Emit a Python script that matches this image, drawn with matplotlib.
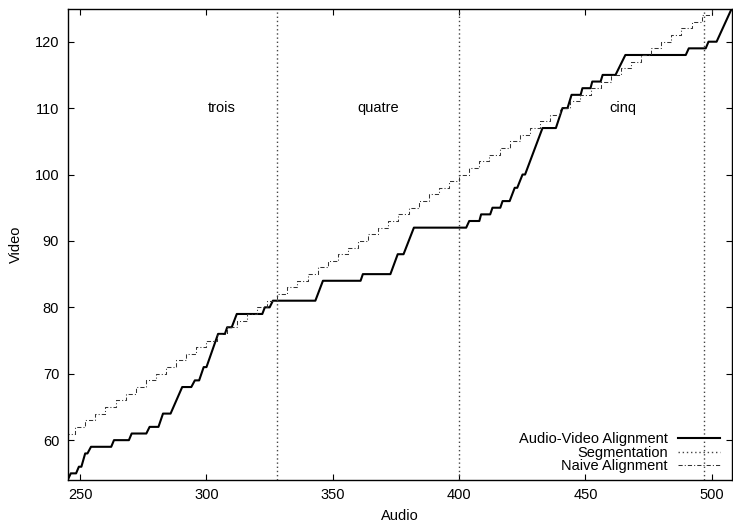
import matplotlib
matplotlib.use('Agg')
import matplotlib.pyplot as plt

plt.rcParams['font.family'] = ['Liberation Sans', 'DejaVu Sans']
plt.rcParams['font.size'] = 10.5

# audio-video alignment path (audio frame, video frame)
av_audio = [245.1, 246.3, 248.4, 249.5, 250.5, 252.0, 252.9, 254.3, 262.3, 263.4,
            269.3, 270.4, 276.2, 277.5, 281.0, 282.8, 285.8, 290.4, 294.0, 295.4,
            297.1, 298.9, 300.0, 304.6, 307.3, 308.2, 310.0, 312.0, 322.1, 323.1,
            325.0, 326.3, 343.1, 346.1, 361.0, 361.9, 372.8, 375.7, 378.0, 382.1,
            402.8, 404.0, 408.0, 408.7, 412.3, 413.2, 416.3, 417.2, 420.0, 422.0,
            423.0, 425.1, 426.1, 433.0, 438.3, 440.9, 442.9, 444.5, 448.1, 448.8,
            452.0, 452.7, 456.0, 456.8, 461.9, 465.8, 489.7, 490.9, 497.6, 498.7,
            501.9, 507.9]
av_video = [54, 55, 55, 56, 56, 58, 58, 59, 59, 60,
            60, 61, 61, 62, 62, 64, 64, 68, 68, 69,
            69, 71, 71, 76, 76, 77, 77, 79, 79, 80,
            80, 81, 81, 84, 84, 85, 85, 88, 88, 92,
            92, 93, 93, 94, 94, 95, 95, 96, 96, 98,
            98, 100, 100, 107, 107, 110, 110, 112, 112, 113,
            113, 114, 114, 115, 115, 118, 118, 119, 119, 120,
            120, 125]

# segment boundaries
seg_audio = [328, 400, 497]
seg_names = ['trois', 'quatre', 'cinq']
seg_label_x = [306, 368, 465]

# naive alignment staircase
naive_audio = [244, 248, 252, 256, 260, 264, 268, 272, 276, 280, 284, 288,
               292, 296, 300, 304, 308, 312, 316, 320, 324, 328, 332, 336,
               340, 344, 348, 352, 356, 360, 364, 368, 372, 376, 380, 384,
               388, 392, 396, 400, 404, 408, 412, 416, 420, 424, 428, 432,
               436, 440, 444, 448, 452, 456, 460, 464, 468, 472, 476, 480,
               484, 488, 492, 496, 500, 504]
naive_video = [61, 62, 63, 64, 65, 66, 67, 68, 69, 70, 71, 72,
               73, 74, 75, 76, 77, 78, 79, 80, 81, 82, 83, 84,
               85, 86, 87, 88, 89, 90, 91, 92, 93, 94, 95, 96,
               97, 98, 99, 100, 101, 102, 103, 104, 105, 106, 107, 108,
               109, 110, 111, 112, 113, 114, 115, 116, 117, 118, 119, 120,
               121, 122, 123, 124, 125, 126]

fig = plt.figure(figsize=(7.33, 5.23), dpi=100)
ax = fig.add_axes([67.5/733, 43/523, (732-67.5)/733, 471.5/523])

ax.plot(av_audio, av_video, color='black', lw=1.5, label='Audio-Video Alignment')
for i, s in enumerate(seg_audio):
    ax.axvline(s, color='#444444', lw=1.0, linestyle=(0, (1, 2)),
               label='Segmentation' if i == 0 else None)
ax.plot(naive_audio, naive_video, color='#333333', lw=0.75, drawstyle='steps-post',
        linestyle=(0, (4, 2, 1, 2)), label='Naive Alignment')

for name, x in zip(seg_names, seg_label_x):
    ax.text(x, 110, name, ha='center', va='center')

ax.set_xlim(245, 508)
ax.set_ylim(54, 125)
ax.set_xticks([250, 300, 350, 400, 450, 500])
ax.set_yticks([60, 70, 80, 90, 100, 110, 120])
ax.tick_params(direction='in', length=4.5, width=0.8, top=True, right=True, pad=6)
for sp in ax.spines.values():
    sp.set_linewidth(1.0)

ax.set_xlabel('Audio', labelpad=5)
ax.set_ylabel('Video', labelpad=8)

ax.legend(loc='lower right', bbox_to_anchor=(720/733, 50/523),
          bbox_transform=fig.transFigure, frameon=False, markerfirst=False,
          borderpad=0, borderaxespad=0, handlelength=2.9, handletextpad=0.7,
          labelspacing=-0.05)

fig.savefig('out.png', dpi=100)
